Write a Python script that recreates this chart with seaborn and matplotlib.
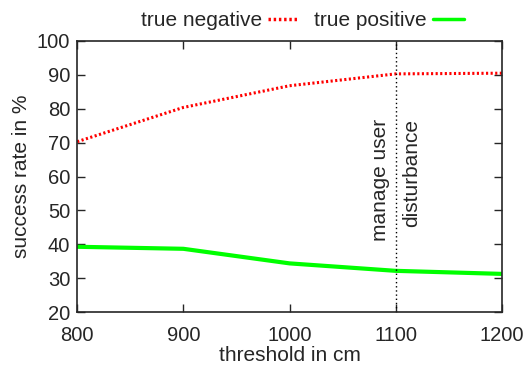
#!/usr/bin/python

import matplotlib
matplotlib.use('Agg')
import matplotlib.pyplot as plt
import pandas as pd
import seaborn as sns

thresholds = [800, 900, 1000, 1100, 1200]
true_negative = [70.3, 80.4, 86.8, 90.3, 90.5]
true_positive = [39.3, 38.7, 34.4, 32.2, 31.3]

sns.set_style('ticks')
plt.rcParams['font.family'] = ['Liberation Sans', 'DejaVu Sans']
plt.rcParams['font.size'] = 15
plt.rcParams['xtick.direction'] = 'in'
plt.rcParams['ytick.direction'] = 'in'
plt.rcParams['xtick.top'] = True
plt.rcParams['ytick.right'] = True

df = pd.DataFrame({
  'threshold': thresholds * 2,
  'rate': true_negative + true_positive,
  'kind': ['true negative'] * len(thresholds) + ['true positive'] * len(thresholds),
})

fig = plt.figure(figsize=(5.25, 3.66), dpi=100)
ax = fig.add_axes([0.147, 0.147, 0.809, 0.741])

sns.lineplot(x='threshold', y='rate', hue='kind', style='kind', data=df,
             palette={'true negative': '#ff0000', 'true positive': '#00ff00'},
             dashes={'true negative': (0.7, 0.8), 'true positive': ''},
             ax=ax, legend=True)
ax.lines[0].set_linewidth(2.2)
ax.lines[1].set_linewidth(3.0)

ax.axvline(1100, color='black', linestyle=(0, (1, 2)), linewidth=1)
ax.text(1086, 77, 'manage user', rotation=90, ha='center', va='top', fontsize=15)
ax.text(1115, 77, 'disturbance', rotation=90, ha='center', va='top', fontsize=15)

ax.set_xlim(800, 1200)
ax.set_ylim(20, 100)
ax.set_xticks([800, 900, 1000, 1100, 1200])
ax.set_yticks(range(20, 101, 10))
ax.set_xlabel('threshold in cm', fontsize=15, labelpad=1)
ax.set_ylabel('success rate in %', fontsize=15, labelpad=4)
ax.tick_params(length=6, width=1, labelsize=14.5)
ax.tick_params(axis='x', pad=10)
ax.tick_params(axis='y', pad=5)
for s in ax.spines.values():
  s.set_linewidth(1.2)

handles, labels = ax.get_legend_handles_labels()
for h in handles:
  h.set_linewidth(2.5)
ax.legend(handles, labels, ncol=2, loc='lower center', bbox_to_anchor=(0.53, 1.01),
          frameon=False, markerfirst=False, handlelength=1.5, columnspacing=0.7,
          handletextpad=0.3, borderaxespad=0, fontsize=15)

plt.savefig('out.png', dpi=100)
